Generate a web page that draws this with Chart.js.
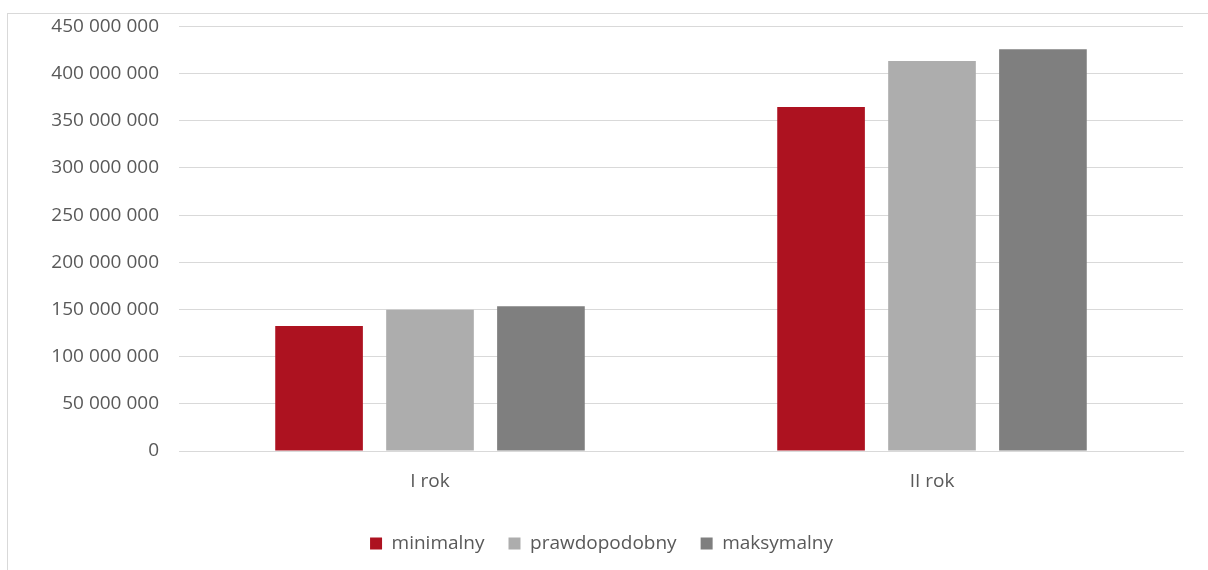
<!DOCTYPE html>
<html>
<head>
<meta charset="utf-8">
<script src="https://cdn.jsdelivr.net/npm/chart.js@4"></script>
<style>
  html, body { margin: 0; padding: 0; background: #fff; }
  #wrap { position: relative; width: 1208px; height: 570px; overflow: hidden; }
  #frame { position: absolute; left: 7px; top: 13px; width: 1210px; height: 600px; border: 1px solid #d9d9d9; box-sizing: border-box; }
  canvas { position: absolute; left: 0; top: -5px; }
</style>
</head>
<body>
<div id="wrap">
  <div id="frame"></div>
  <canvas id="chart" width="1208" height="575"></canvas>
</div>
<script>
const categories = ["I rok", "II rok"];
const seriesNames = ["minimalny", "prawdopodobny", "maksymalny"];
const minimalny = [132400000, 364700000];
const prawdopodobny = [149700000, 413200000];
const maksymalny = [153300000, 425700000];
const seriesColors = ["#ad1220", "#adadad", "#7f7f7f"];

// "450 000 000" style with space grouping
const fmt = (v) => String(Math.round(v)).replace(/\B(?=(\d{3})+(?!\d))/g, " ");

const FONT = "'Open Sans', sans-serif";
const ctx = document.getElementById("chart").getContext("2d");

new Chart(ctx, {
  type: "bar",
  data: {
    labels: categories,
    datasets: [minimalny, prawdopodobny, maksymalny].map((vals, i) => ({
      label: seriesNames[i],
      data: vals,
      backgroundColor: seriesColors[i],
      categoryPercentage: 0.663,
      barPercentage: 0.79,
    })),
  },
  options: {
    responsive: false,
    animation: false,
    layout: { padding: { left: 20, right: 25, top: 9, bottom: 7 } },
    plugins: {
      tooltip: { enabled: false },
      legend: {
        position: "bottom",
        labels: {
          boxWidth: 12,
          boxHeight: 12,
          padding: 24,
          color: "#595959",
          font: { family: FONT, size: 19 },
        },
      },
    },
    scales: {
      x: {
        grid: { display: false },
        border: { color: "#d9d9d9" },
        ticks: {
          color: "#595959",
          padding: 11,
          font: { family: FONT, size: 19 },
        },
        afterFit: (s) => { s.height = 59; },
      },
      y: {
        min: 0,
        max: 450000000,
        border: { display: false },
        grid: { color: "#d9d9d9", lineWidth: 1, drawTicks: false },
        ticks: {
          stepSize: 50000000,
          color: "#595959",
          padding: 20,
          font: { family: FONT, size: 19 },
          callback: (v) => fmt(v),
        },
        afterFit: (s) => { s.width = 159; },
      },
    },
  },
});
</script>
</body>
</html>
